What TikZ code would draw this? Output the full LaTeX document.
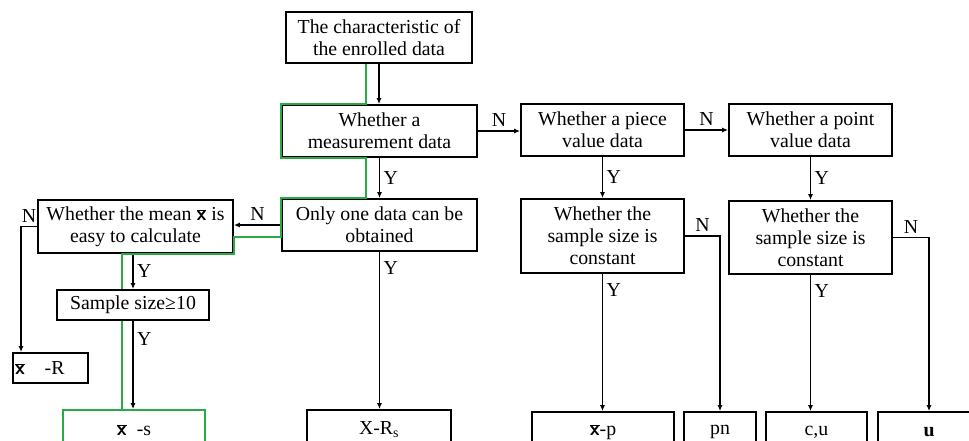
\documentclass[tikz,border=0pt]{standalone}
\usepackage{fontspec}
\setmainfont{Liberation Serif}
\usepackage{xcolor}
\usepackage{tikz}
\usetikzlibrary{arrows.meta}
\definecolor{tracegreen}{RGB}{40,170,70}
\newcommand{\xbar}{$\overline{\mbox{\sffamily\bfseries x}}$}

\begin{document}
\begin{tikzpicture}[x=1pt,y=-1pt,
  box/.style={draw,line width=1.8pt,align=center,inner sep=0pt,font=\fontsize{19.8}{22}\selectfont},
  lbl/.style={font=\fontsize{19.8}{22}\selectfont},
  arr/.style={line width=1.8pt,-{Latex[length=6pt,width=5pt]}},
  trace/.style={draw=tracegreen,line width=1.7pt}]
\useasboundingbox (0,0) rectangle (969,440);
\clip (0,0) rectangle (969,440);

\node[box,minimum width=186pt,minimum height=51pt] (top) at (379,37.5) {The characteristic of\\the enrolled data};
\node[box,minimum width=195pt,minimum height=52pt] (meas) at (379.5,131) {Whether a\\measurement data};
\node[box,minimum width=163pt,minimum height=52pt] (piece) at (602.5,130) {Whether a piece\\value data};
\node[box,minimum width=163pt,minimum height=52pt] (point) at (810.5,130) {Whether a point\\value data};
\node[box,minimum width=195pt,minimum height=52pt] (only) at (379.5,225) {Only one data can be\\obtained};
\node[box,minimum width=195pt,minimum height=53pt] (mean) at (135.5,226.5) {Whether the mean \xbar{} is\\easy to calculate};
\node[box,minimum width=163pt,minimum height=74pt] (sizeA) at (602.5,236) {Whether the\\sample size is\\constant};
\node[box,minimum width=163pt,minimum height=73pt] (sizeB) at (810.5,237.5) {Whether the\\sample size is\\constant};
\node[box,minimum width=152pt,minimum height=30pt] (sample) at (133,305) {Sample size≥10};
\node[box,minimum width=75pt,minimum height=30pt,align=left,text width=71pt,inner xsep=2pt] (xR) at (50.5,368) {\xbar\ \ \ -R};
\node[box,draw=tracegreen,minimum width=142pt,minimum height=40pt] (xs) at (134,430) {\xbar\ \ -s};
\node[box,minimum width=144pt,minimum height=40pt] (xrs) at (379,430) {X-R\textsubscript{s}};
\node[box,minimum width=142pt,minimum height=40pt] (xp) at (603,432) {\xbar-p};
\node[box,minimum width=72pt,minimum height=40pt] (pn) at (720,432) {pn};
\node[box,minimum width=101pt,minimum height=40pt] (cu) at (816.5,432) {c,u};
\node[box,minimum width=102pt,minimum height=40pt] (u) at (929,432) {\textbf{u}};

\coordinate (bendR) at (21,0);
\draw[arr] (top.south) -- (top.south |- meas.north);
\draw[arr] (meas.south) -- node[lbl,right]{Y} (meas.south |- only.north);
\draw[arr] (meas.east) -- node[lbl,above]{N} (meas.east -| piece.west);
\draw[arr] (piece) -- node[lbl,above]{N} (point);
\draw[arr] (piece) -- node[lbl,right]{Y} (sizeA);
\draw[arr] (point) -- node[lbl,right]{Y} (sizeB);
\draw[arr] (only.west) -- node[lbl,above]{N} (only.west -| mean.east);
\draw[arr] (only.south) -- node[lbl,right,pos=0.1]{Y} (only.south |- xrs.north);
\draw[arr] (mean.south -| sample.north) -- node[lbl,right]{Y} (sample.north);
\draw[arr] (sample.south) -- node[lbl,right,pos=0.2]{Y} (sample.south |- xs.north);
\draw[arr] (mean.west) -- node[lbl,above]{N} (mean.west -| bendR) -- (xR.north -| bendR);
\draw[arr] (sizeA.south) -- node[lbl,right,pos=0.12]{Y} (sizeA.south |- xp.north);
\draw[arr] (sizeB.south) -- node[lbl,right,pos=0.12]{Y} (sizeB.south |- cu.north);
\draw[arr] (sizeA.east) -- node[lbl,above]{N} (sizeA.east -| pn.north) -- (pn.north);
\draw[arr] (sizeB.east) -- node[lbl,above]{N} (sizeB.east -| u.north) -- (u.north);

% green trace
\coordinate (g1) at (366,0);
\coordinate (g2) at (0,237);
\coordinate (g3) at (122,0);
\draw[trace] (top.south -| g1) -- (meas.north -| g1) -- (meas.north west) -- (meas.south west) -- (meas.south -| g1)
  -- (only.north -| g1) -- (only.north west) -- (only.west |- g2) -- (mean.east |- g2) -- (mean.south east) -- (mean.south -| g3) -- (sample.north -| g3);
\draw[trace] (sample.south -| g3) -- (xs.north -| g3);
\end{tikzpicture}
\end{document}
